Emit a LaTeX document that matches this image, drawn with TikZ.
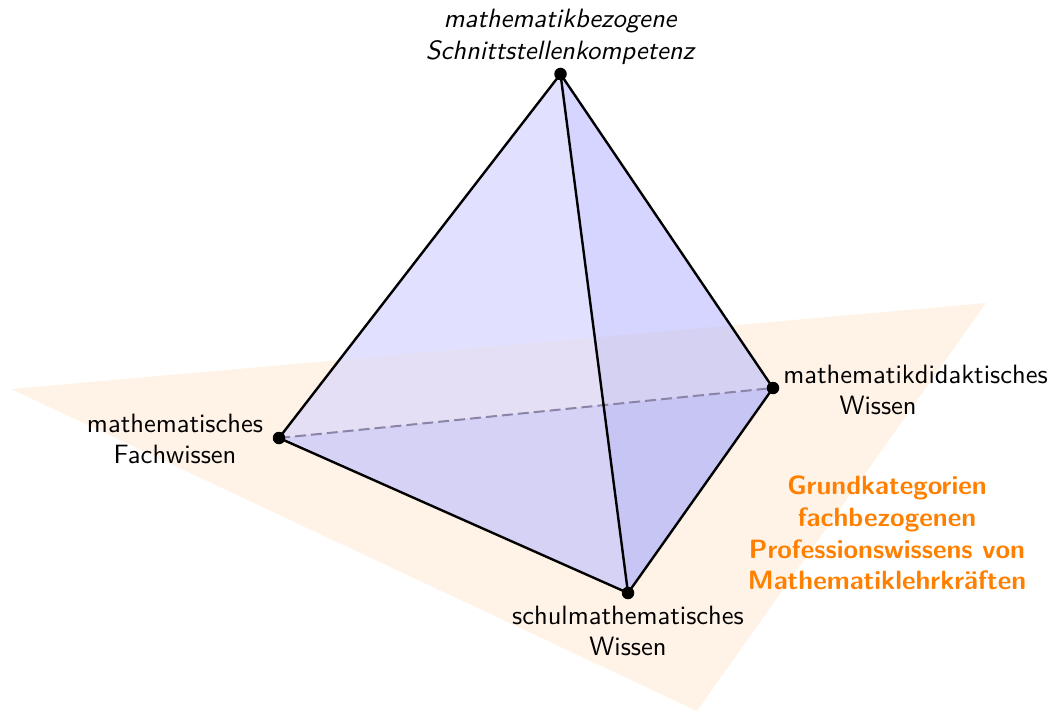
\documentclass[tikz,border=0pt]{standalone}
\definecolor{planec}{HTML}{FFF3E8}
\definecolor{ulc}{HTML}{E1E1FF}
\definecolor{urc}{HTML}{D5D5FF}
\definecolor{ulpc}{HTML}{E4DFF4}
\definecolor{urpc}{HTML}{D5D1F3}
\definecolor{llc}{HTML}{D6D2F5}
\definecolor{lrc}{HTML}{C7C5F4}
\definecolor{orangec}{HTML}{FF8000}
\definecolor{dashc}{HTML}{8A85A8}
\begin{document}
\begin{tikzpicture}[x=1pt,y=-1pt,
  lbl/.style={scale=2.65,transform shape,font=\sffamily,inner sep=0pt,align=center,text=black},
  vertexdot/.style={circle,fill=black,inner sep=0pt,minimum size=12.5pt},
  edge/.style={draw=black,line width=2.4pt,line join=round},
  hidden/.style={draw=dashc,line width=2pt,dash pattern=on 11pt off 5pt}]
\useasboundingbox (0,0) rectangle (1049,711);
\coordinate (P1) at (11,389);
\coordinate (P2) at (986,303);
\coordinate (P3) at (697,711);
\coordinate (A) at (279,438);
\coordinate (B) at (628,593);
\coordinate (C) at (773,388);
\coordinate (D) at (560.5,74);
\coordinate (X) at (intersection of A--C and B--D);
\fill[planec] (P1) -- (P2) -- (P3) -- cycle;
\fill[ulc] (A) -- (X) -- (D) -- cycle;
\fill[urc] (D) -- (X) -- (C) -- cycle;
\begin{scope}
\clip (P1) -- (P2) -- (P3) -- cycle;
\fill[ulpc] (A) -- (X) -- (D) -- cycle;
\fill[urpc] (D) -- (X) -- (C) -- cycle;
\end{scope}
\fill[llc] (A) -- (B) -- (X) -- cycle;
\fill[lrc] (B) -- (C) -- (X) -- cycle;
\draw[hidden] (A) -- (C);
\draw[edge] (A) -- (B) -- (C) -- (D) -- cycle;
\draw[edge] (D) -- (B);
\node[vertexdot] (a) at (A) {};
\node[vertexdot] (b) at (B) {};
\node[vertexdot] (c) at (C) {};
\node[vertexdot] (d) at (D) {};
\node[lbl,font=\sffamily\slshape] (dl) at (560,37) {mathematikbezogene\\Schnittstellenkompetenz};
\node[lbl] (al) at (175,439) {mathematisches\\Fachwissen};
\node[lbl] (bl) at (628,631) {schulmathematisches\\Wissen};
\node[lbl,align=left] (cl) at (915.5,390) {mathematikdidaktisches\\\hspace*{21.2pt}Wissen};
\node[lbl,font=\sffamily\bfseries,text=orangec] (pl) at (887,533) {Grundkategorien\\fachbezogenen\\Professionswissens von\\Mathematiklehrkräften};
\end{tikzpicture}
\end{document}
